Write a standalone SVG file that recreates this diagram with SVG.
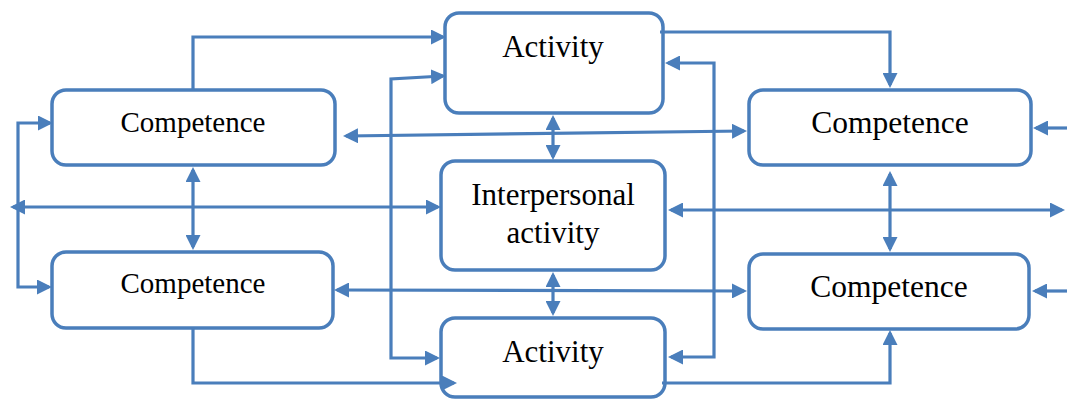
<svg xmlns="http://www.w3.org/2000/svg" width="1067" height="399" viewBox="0 0 1067 399">
<style>
.box{fill:#fff;stroke:#4A7EBB;stroke-width:3.5}
.ln{fill:none;stroke:#4A7EBB;stroke-width:3.2}
.t{font-family:"Liberation Serif","Times New Roman",serif;fill:#000;text-anchor:middle}
</style>
<defs>
<marker id="ah" viewBox="0 0 15 15" refX="12" refY="7.5" markerWidth="15" markerHeight="15" markerUnits="userSpaceOnUse" orient="auto-start-reverse">
<path d="M0,0 L15,7.5 L0,15 z" fill="#4A7EBB"/>
</marker>
</defs>
<rect width="1067" height="399" fill="#fff"/>
<g id="comp-tl"><rect class="box" x="52" y="90" width="283" height="75" rx="14"/><text class="t" x="193" y="132" font-size="29">Competence</text></g>
<g id="comp-bl"><rect class="box" x="52" y="252" width="281" height="76" rx="14"/><text class="t" x="193" y="293" font-size="29">Competence</text></g>
<g id="act-top"><rect class="box" x="445" y="13" width="218" height="100" rx="14"/><text class="t" x="553" y="57" font-size="31">Activity</text></g>
<g id="interpersonal"><rect class="box" x="441" y="161" width="224" height="109" rx="14"/><text class="t" x="553" y="205" font-size="31">Interpersonal</text><text class="t" x="553" y="243" font-size="31">activity</text></g>
<g id="act-bottom"><rect class="box" x="441" y="318" width="224" height="79" rx="14"/><text class="t" x="553" y="362" font-size="31">Activity</text></g>
<g id="comp-tr"><rect class="box" x="749" y="90" width="282" height="75" rx="14"/><text class="t" x="890" y="133" font-size="31.5">Competence</text></g>
<g id="comp-br"><rect class="box" x="749" y="254" width="280" height="75" rx="14"/><text class="t" x="889" y="297" font-size="31.5">Competence</text></g>
<g id="connectors">
<path class="ln" d="M193,89 V37 H443" marker-end="url(#ah)"/>
<path class="ln" d="M437,358 H391 V79 L443,76" marker-start="url(#ah)" marker-end="url(#ah)"/>
<path class="ln" d="M668,63 H714 V357 H671" marker-start="url(#ah)" marker-end="url(#ah)"/>
<path class="ln" d="M346,136 L744,131" marker-start="url(#ah)" marker-end="url(#ah)"/>
<path class="ln" d="M553,118 V157" marker-start="url(#ah)" marker-end="url(#ah)"/>
<path class="ln" d="M13,207 H438" marker-start="url(#ah)" marker-end="url(#ah)"/>
<path class="ln" d="M50,123 H18 V287 H49" marker-start="url(#ah)" marker-end="url(#ah)"/>
<path class="ln" d="M671,210 H1062" marker-start="url(#ah)" marker-end="url(#ah)"/>
<path class="ln" d="M890,174 V249" marker-start="url(#ah)" marker-end="url(#ah)"/>
<path class="ln" d="M1067,128 H1036" marker-end="url(#ah)"/>
<path class="ln" d="M1067,291 H1035" marker-end="url(#ah)"/>
<path class="ln" d="M660,32 H890 V85" marker-end="url(#ah)"/>
<path class="ln" d="M662,383 H890 V333" marker-end="url(#ah)"/>
<path class="ln" d="M193,328 V383 H454" marker-end="url(#ah)"/>
<path class="ln" d="M193,170 V247" marker-start="url(#ah)" marker-end="url(#ah)"/>
<path class="ln" d="M337,290 L744,291" marker-start="url(#ah)" marker-end="url(#ah)"/>
<path class="ln" d="M553,275 V313" marker-start="url(#ah)" marker-end="url(#ah)"/>
</g>
</svg>
